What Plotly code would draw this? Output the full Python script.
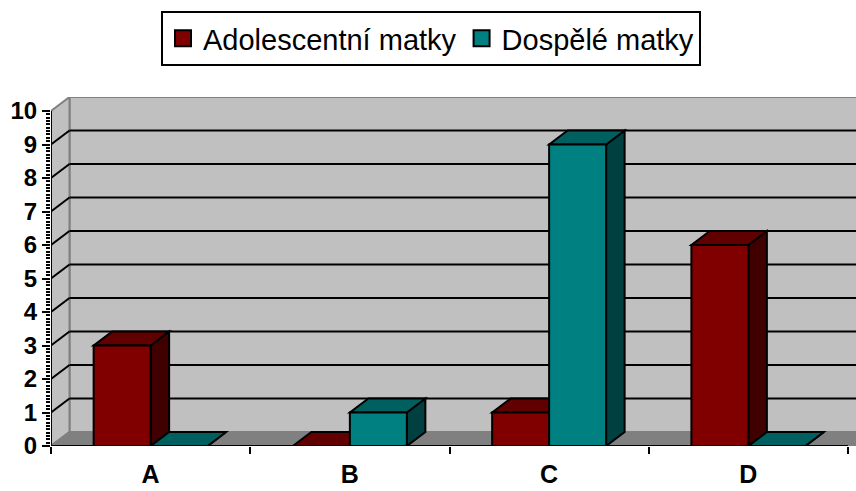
import plotly.graph_objects as go

categories = ["A", "B", "C", "D"]
series_names = ["Adolescentní matky", "Dospělé matky"]
adolescent = [3, 0, 1, 6]
adult = [0, 1, 9, 0]
y_ticks = [0, 1, 2, 3, 4, 5, 6, 7, 8, 9, 10]

front_colors = ["#800000", "#008080"]
top_colors = ["#600000", "#006060"]
side_colors = ["#400000", "#004040"]

FONT = "Liberation Sans, Arial, sans-serif"
W, H = 856, 491
ML, MR, MT, MB = 51, 0, 97, 45

ncat = len(categories)
ymax = y_ticks[-1]
px_per_x = (848 - ML) / ncat          # pixels per category
px_per_y = 33.5                       # pixels per value unit
dx = 18.5 / px_per_x                  # depth offset in x data units
dy = 14.0 / px_per_y                  # depth offset in y data units
x_left = -0.5
x_right = x_left + (W - MR - ML) / px_per_x
bar_w = 0.286
offsets = [-bar_w, 0.0]

shapes = []


def poly(pts, fill, line_color="black", width=2):
    d = "M " + " L ".join(f"{x},{y}" for x, y in pts) + " Z"
    return dict(type="path", path=d, xref="x", yref="y", fillcolor=fill,
                line=dict(color=line_color, width=width), layer="below")


def seg(x0, y0, x1, y1, color="black", width=2, layer="below"):
    return dict(type="line", x0=x0, y0=y0, x1=x1, y1=y1, xref="x", yref="y",
                line=dict(color=color, width=width), layer=layer)


# walls
shapes.append(poly([(x_left + dx, dy), (x_left + dx, ymax + dy), (x_right + dx, ymax + dy),
                    (x_right + dx, dy)], "#C0C0C0", "#808080"))
shapes.append(poly([(x_left, 0), (x_left + dx, dy), (x_left + dx, ymax + dy), (x_left, ymax)],
                   "#C0C0C0", "#808080"))
shapes.append(poly([(x_left, 0), (x_left + dx, dy), (x_right + 2 * dx, dy), (x_right + dx, 0)],
                   "#808080", "#808080"))
# gridlines on the back wall and left wall
for v in y_ticks[1:-1]:
    shapes.append(seg(x_left + dx, v + dy, x_right + dx, v + dy))
    shapes.append(seg(x_left, v, x_left + dx, v + dy))

# 3D faces of bars
for j in range(ncat):
    for i, vals in enumerate([adolescent, adult]):
        v = vals[j]
        x0 = j + offsets[i]
        x1 = x0 + bar_w
        shapes.append(poly([(x1, 0), (x1, v), (x1 + dx, v + dy), (x1 + dx, dy)], side_colors[i]))
        shapes.append(poly([(x0, v), (x1, v), (x1 + dx, v + dy), (x0 + dx, v + dy)], top_colors[i]))

# front axis lines
shapes.append(seg(x_left, 0, x_left, ymax, layer="above"))
shapes.append(seg(x_left, 0, x_left + ncat, 0, layer="above"))

fig = go.Figure()
for i, vals in enumerate([adolescent, adult]):
    fig.add_trace(go.Bar(
        x=list(range(ncat)), y=vals, width=bar_w, offset=offsets[i],
        marker=dict(color=front_colors[i], line=dict(color="black", width=2)),
        showlegend=False, hoverinfo="skip"))
for i, name in enumerate(series_names):
    fig.add_trace(go.Scatter(
        x=[None], y=[None], mode="markers", name=name,
        marker=dict(symbol="square", size=16, color=front_colors[i],
                    line=dict(color="black", width=2))))

minor_y = [k / 10 for k in range(0, ymax * 10 + 1)]

fig.update_layout(
    width=W, height=H,
    margin=dict(l=ML, r=MR, t=MT, b=MB, autoexpand=False),
    paper_bgcolor="white", plot_bgcolor="white",
    template="none",
    barmode="overlay",
    shapes=shapes,
    font=dict(family=FONT, color="black"),
    showlegend=True,
    legend=dict(orientation="h", xref="container", yref="container",
                x=161 / W, xanchor="left", y=1 - 11 / H, yanchor="top",
                bgcolor="white", bordercolor="black", borderwidth=2,
                font=dict(size=29, family=FONT, color="black"),
                itemsizing="trace", tracegroupgap=0),
    xaxis=dict(range=[x_left, x_right], tickmode="array", tickvals=list(range(ncat)),
               ticktext=categories, ticks="", showgrid=False, zeroline=False,
               showline=False, automargin=False, ticklabelstandoff=11,
               tickfont=dict(size=25, family=FONT, color="black", weight="bold"),
               minor=dict(tickmode="array", tickvals=[x_left + k for k in range(ncat + 1)],
                          ticks="outside", ticklen=7, tickwidth=2, tickcolor="black",
                          showgrid=False)),
    yaxis=dict(range=[0, ymax + dy], tickmode="array", tickvals=y_ticks,
               ticks="outside", ticklen=8, tickwidth=2, tickcolor="black",
               showgrid=False, zeroline=False, showline=False, automargin=False,
               tickfont=dict(size=24, family=FONT, color="black", weight="bold"),
               minor=dict(tickmode="array", tickvals=minor_y, ticks="outside",
                          ticklen=4, tickwidth=1.5, tickcolor="black", showgrid=False)),
)

fig.write_html("out.html", config={"displayModeBar": False},
               post_script="document.body.style.margin='0';")
